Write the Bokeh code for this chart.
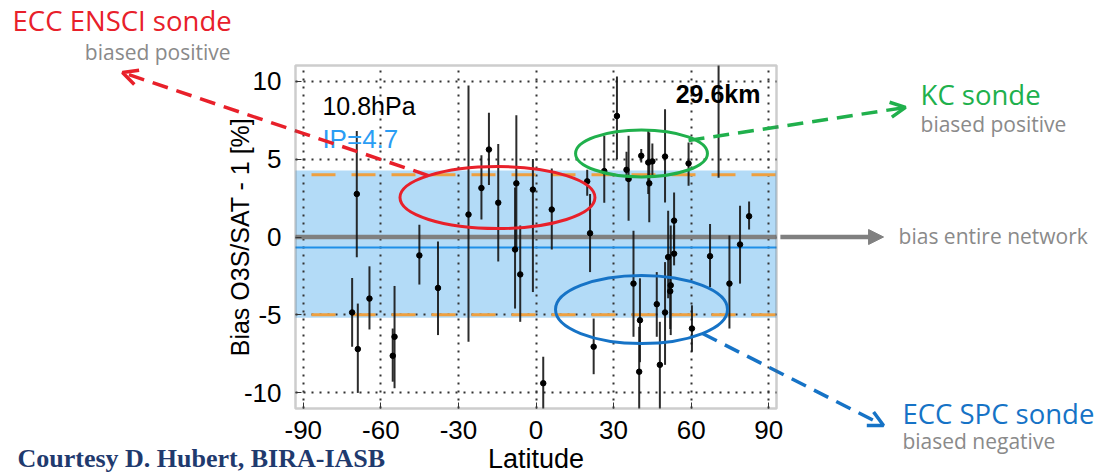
import numpy as np
from bokeh.plotting import figure
from bokeh.models import (Range1d, LinearAxis, Grid, FixedTicker, BoxAnnotation, Label,
                          Arrow, OpenHead, NormalHead, ColumnDataSource, CDSView, BooleanFilter)
from bokeh.embed import file_html
from bokeh.resources import INLINE

# ---------------- data ----------------
lat = [-69.3, -71.1, -68.9, -64.4, -54.7, -55.4, -45.1, -37.9, -26.1, -21.1,
       -18.2, -14.6, -7.6, -8.1, -6.1, -1.2, 6.1, 2.8, 19.8, 20.9,
       22.3, 26.4, 31.3, 35.0, 35.8, 40.7, 43.4, 43.8, 45.0, 49.9,
       59.0, 70.6, 37.7, 40.2, 39.9, 46.7, 49.9, 47.9, 53.4, 51.1,
       53.4, 52.1, 51.9, 60.3, 67.3, 74.8, 78.9, 82.4]
bias = [2.76, -4.84, -7.19, -3.95, -6.4, -7.62, -1.18, -3.27, 1.44, 3.14,
        5.61, 2.2, 3.44, -0.8, -2.4, 3.04, 1.76, -9.38, 3.57, 0.24,
        -7.04, 4.23, 7.76, 4.31, 3.72, 5.21, 4.78, 3.44, 4.85, 5.16,
        4.72, 11.6, -2.99, -5.34, -8.64, -4.31, -4.84, -8.2, 1.05, -1.29,
        -1.07, -3.1, -3.48, -5.87, -1.23, -2.99, -0.48, 1.33]
err_lo = [-1.3, -7.04, -10.0, -5.93, -9.7, -9.28, -3.05, -6.29, -6.72, 1.12,
          3.33, -1.57, -0.93, -4.59, -5.44, -3.53, -0.8, -11.0, 2.65, -2.25,
          -8.8, 2.19, 5.0, 3.61, 1.05, 4.78, 2.76, 0.95, 3.9, 2.22,
          3.29, 3.8, -6.4, -8.03, -11.5, -6.4, -8.2, -11.0, -0.76, -3.93,
          -1.82, -6.29, -5.9, -7.36, -3.21, -5.87, -2.99, 0.48]
err_hi = [6.8, -2.63, -4.27, -1.88, -3.14, -5.87, 0.78, -0.29, 9.72, 5.25,
          7.97, 5.96, 7.81, 3.18, 0.73, 5.0, 4.4, -7.68, 4.31, 2.76,
          -5.23, 6.49, 10.3, 5.46, 6.49, 5.64, 6.8, 6.7, 6.0, 8.19,
          6.06, 19.4, 0.4, -2.65, -5.76, -2.25, -1.61, -5.44, 2.86, 1.69,
          0.73, 0.73, -1.1, -4.38, 0.84, 0.1, 2.01, 2.27]

x_ticks = [-90, -60, -30, 0, 30, 60, 90]
y_ticks = [-10, -5, 0, 5, 10]
x_lim = (-93, 93)
y_lim = (-11, 11)

network_bias = 0.0        # grey line
station_mean = -0.67      # blue line
ip = 4.7
band = (-5.18, 4.27)      # light blue band
orange = (-4.99, 3.99)    # orange dashed limits

# highlighted groups (ellipses): centre lat, centre bias, width (deg), height (%)
ell_x = [-14.9, 40.8, 40.8]
ell_y = [2.53, 5.36, -4.65]
ell_w = [75.4, 51.0, 66.5]
ell_h = [3.98, 3.01, 4.36]
ell_c = ["#e8202a", "#20b04c", "#1673c6"]

# ---------------- layout ----------------
W, H = 1095, 472
box_l, box_r, box_t, box_b = 295, 776, 65, 408   # chart box in canvas pixels
sx = (box_r - box_l) / (x_lim[1] - x_lim[0])
sy = (box_b - box_t) / (y_lim[1] - y_lim[0])
xr = Range1d(x_lim[0] - box_l / sx, x_lim[1] + (W - box_r) / sx)
yr = Range1d(y_lim[0] - (H - box_b) / sy, y_lim[1] + box_t / sy)

p = figure(width=W, height=H, x_range=xr, y_range=yr, output_backend="svg",
           toolbar_location=None, x_axis_type=None, y_axis_type=None, min_border=0)
p.title.visible = False
p.outline_line_color = None
p.background_fill_color = "white"
p.border_fill_color = "white"

# band (under grid)
p.add_layout(BoxAnnotation(left=x_lim[0], right=x_lim[1], bottom=band[0], top=band[1],
                           fill_color="#b3dbf7", fill_alpha=1, line_color=None, level="underlay"))

# dotted grid limited to the box
gx = Grid(dimension=0, ticker=FixedTicker(ticks=x_ticks), bounds=(x_ticks[0], x_ticks[-1]),
          cross_bounds=y_lim, grid_line_color="#333333", grid_line_dash="2 6", grid_line_width=2)
gy = Grid(dimension=1, ticker=FixedTicker(ticks=y_ticks), bounds=(y_ticks[0], y_ticks[-1]),
          cross_bounds=x_lim, grid_line_color="#333333", grid_line_dash="2 6", grid_line_width=2)
p.add_layout(gx)
p.add_layout(gy)

# axes fixed on the box edges
font = "Liberation Sans"
xaxis = LinearAxis(fixed_location=y_lim[0], ticker=FixedTicker(ticks=x_ticks), bounds=x_lim,
                   axis_label="Latitude",
                   major_label_overrides={t: str(t) for t in x_ticks})
yaxis = LinearAxis(fixed_location=x_lim[0], ticker=FixedTicker(ticks=y_ticks), bounds=y_lim,
                   axis_label="Bias O3S/SAT - 1 [%]",
                   major_label_overrides={t: str(t) for t in y_ticks})
for ax in (xaxis, yaxis):
    ax.axis_line_color = None
    ax.major_tick_in = 6
    ax.major_tick_out = 0
    ax.major_tick_line_color = "#333333"
    ax.minor_tick_line_color = None
    ax.major_label_text_font = font
    ax.major_label_text_font_size = "26px"
    ax.major_label_text_color = "black"
    ax.axis_label_text_font = font
    ax.axis_label_text_font_style = "normal"
    ax.axis_label_text_color = "black"
xaxis.axis_label_text_font_size = "27px"
yaxis.axis_label_text_font_size = "25px"
xaxis.major_label_standoff = 12
xaxis.axis_label_standoff = 2
yaxis.major_label_standoff = 14
yaxis.axis_label_standoff = -13
p.add_layout(xaxis, "below")
p.add_layout(yaxis, "left")

# reference lines
p.line(list(x_lim), [network_bias] * 2, line_color="#808080", line_width=4.5)
p.line(list(x_lim), [station_mean] * 2, line_color="#1e8fe8", line_width=2)
for v in orange:
    p.line(list(x_lim), [v] * 2, line_color="#eea040", line_width=3, line_dash="24 16",
           line_dash_offset=-16)

# data
lo_c = np.clip(err_lo, y_lim[0], y_lim[1])
hi_c = np.clip(err_hi, y_lim[0], y_lim[1])
src = ColumnDataSource(dict(lat=lat, bias=bias, lo=lo_c, hi=hi_c))
inside = [y_lim[0] <= b <= y_lim[1] for b in bias]
p.segment(x0="lat", y0="lo", x1="lat", y1="hi", source=src, line_color="#151515",
          line_width=2, line_alpha=0.9)
p.scatter("lat", "bias", source=src, view=CDSView(filter=BooleanFilter(inside)),
          size=5.5, color="black")

# highlighted groups
p.ellipse(x=ell_x, y=ell_y, width=ell_w, height=ell_h, fill_color=None,
          line_color=ell_c, line_width=3)

# box frame
p.add_layout(BoxAnnotation(left=x_lim[0], right=x_lim[1], bottom=y_lim[0], top=y_lim[1],
                           fill_color=None, fill_alpha=0, line_color="#5a5a5a", line_width=2.5,
                           level="overlay"))

# texts in the box
AB = "alphabetic"
p.add_layout(Label(x=-82.6, y=8.38, text="10.8hPa", text_font=font, text_font_size="25px",
                   text_color="black", text_baseline=AB))
p.add_layout(Label(x=-82.6, y=6.30, text="IP=4.7", text_font=font, text_font_size="26px",
                   text_color="#2a9df4", text_baseline=AB))
p.add_layout(Label(x=86.8, y=9.15, text="29.6km", text_font=font, text_font_size="25px",
                   text_font_style="bold", text_align="right", text_color="black",
                   text_baseline=AB))

# outer annotations
red, green, blue, grey, grey_t = "#e8202a", "#20b04c", "#1673c6", "#808080", "#8a8a8a"
af = "Open Sans"
big, small = "27.5px", "21px"
p.add_layout(Label(x=-202.4, y=13.90, text="ECC ENSCI sonde", text_font=af,
                   text_font_size=big, text_color=red, text_baseline=AB))
p.add_layout(Label(x=-118.1, y=11.88, text="biased positive", text_font=af,
                   text_font_size=small, text_color=grey_t, text_align="right",
                   text_baseline=AB))
p.add_layout(Label(x=148.7, y=9.15, text="KC sonde", text_font=af,
                   text_font_size=big, text_color=green, text_baseline=AB))
p.add_layout(Label(x=148.7, y=7.22, text="biased positive", text_font=af,
                   text_font_size=small, text_color=grey_t, text_baseline=AB))
p.add_layout(Label(x=140.2, y=0.08, text="bias entire network", text_font=af,
                   text_font_size=small, text_color=grey_t, text_baseline=AB))
p.add_layout(Label(x=141.7, y=-11.31, text="ECC SPC sonde", text_font=af,
                   text_font_size=big, text_color=blue, text_baseline=AB))
p.add_layout(Label(x=141.7, y=-13.07, text="biased negative", text_font=af,
                   text_font_size=small, text_color=grey_t, text_baseline=AB))
p.add_layout(Label(x=-200.5, y=yr.start, text="Courtesy D. Hubert, BIRA-IASB",
                   text_font="Liberation Serif", text_font_size="26px", text_font_style="bold",
                   text_color="#1f3a6e", text_baseline="bottom"))

p.add_layout(Arrow(end=OpenHead(size=15, line_color=red, line_width=3.5),
                   x_start=-41.6, y_start=3.94, x_end=-159.9, y_end=10.55,
                   line_color=red, line_width=3.5, line_dash="16 9"))
p.add_layout(Arrow(end=OpenHead(size=15, line_color=green, line_width=3.5),
                   x_start=59.0, y_start=6.19, x_end=142.9, y_end=8.31,
                   line_color=green, line_width=3.5, line_dash="16 9"))
p.add_layout(Arrow(end=NormalHead(size=15, fill_color=grey, line_color=grey),
                   x_start=94.5, y_start=network_bias, x_end=134.4, y_end=network_bias,
                   line_color=grey, line_width=4.5))
p.add_layout(Arrow(end=OpenHead(size=15, line_color=blue, line_width=3.5),
                   x_start=64.4, y_start=-6.19, x_end=134.4, y_end=-12.09,
                   line_color=blue, line_width=3.5, line_dash="16 9"))

open("out.html", "w").write(file_html(p, INLINE))
